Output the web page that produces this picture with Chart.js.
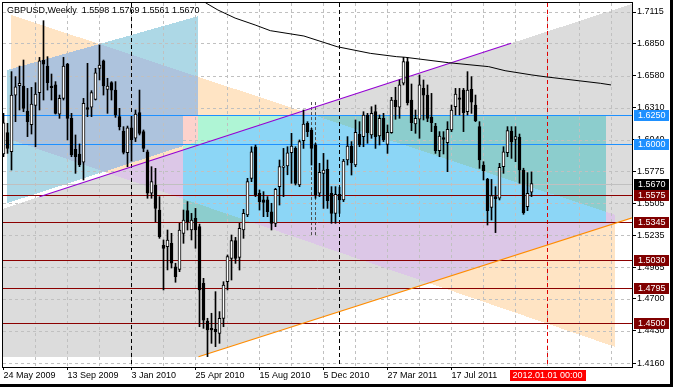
<!DOCTYPE html>
<html>
<head>
<meta charset="utf-8">
<script src="https://cdn.jsdelivr.net/npm/chart.js@4.4.1/dist/chart.umd.min.js"></script>
<style>
  html, body { margin: 0; padding: 0; background: #000; }
  #wrap { width: 670px; height: 384px; background: #fff; }
  canvas { display: block; }
</style>
</head>
<body>
<div id="wrap"><canvas id="chart" width="670" height="384"></canvas></div>
<script>
// GBPUSD weekly bars, index 0 = week of 24 May 2009
var opens = [
  1.5920, 1.6099, 1.5939, 1.6416, 1.6495, 1.6492, 1.6282, 1.6167, 1.6329, 1.6436,
  1.6711, 1.6660, 1.6492, 1.6501, 1.6254, 1.6388, 1.6677, 1.6220, 1.5959, 1.5920,
  1.5850, 1.6310, 1.6313, 1.6380, 1.6641, 1.6703, 1.6464, 1.6520, 1.6458, 1.6234,
  1.6113, 1.5931, 1.6141, 1.6052, 1.6268, 1.6108, 1.5939, 1.5589, 1.5659, 1.5448,
  1.5150, 1.5140, 1.5168, 1.4971, 1.4949, 1.5252, 1.5443, 1.5280, 1.5378, 1.5308,
  1.4831, 1.4514, 1.4452, 1.4444, 1.4410, 1.4536, 1.4845, 1.5041, 1.5190, 1.5050,
  1.5280, 1.5406, 1.5715, 1.5981, 1.5589, 1.5533, 1.5533, 1.5434, 1.5336, 1.5645,
  1.5807, 1.5819, 1.5931, 1.5967, 1.5659, 1.6032, 1.6178, 1.6122, 1.5996, 1.5589,
  1.5757, 1.5791, 1.5589, 1.5420, 1.5580, 1.5533, 1.5869, 1.5987, 1.5827, 1.6085,
  1.6066, 1.6248, 1.6080, 1.6276, 1.6071, 1.6220, 1.6001, 1.6099, 1.6374, 1.6313,
  1.6515, 1.6697, 1.6374, 1.6172, 1.6212, 1.6472, 1.6416, 1.6228, 1.6155, 1.5948,
  1.6057, 1.6015, 1.6122, 1.6318, 1.6392, 1.6458, 1.6276, 1.6464, 1.6332, 1.6150,
  1.5827, 1.5706, 1.5471, 1.5561, 1.5547, 1.5813, 1.5931, 1.6113, 1.6043, 1.6060,
  1.5785, 1.5476, 1.5598
];
var highs = [
  1.6262, 1.6178, 1.6613, 1.6571, 1.6660, 1.6711, 1.6472, 1.6481, 1.6520, 1.6733,
  1.7042, 1.6739, 1.6593, 1.6529, 1.6416, 1.6733, 1.6683, 1.6262, 1.6080, 1.6004,
  1.6388, 1.6683, 1.6453, 1.6641, 1.6837, 1.6711, 1.6557, 1.6529, 1.6529, 1.6304,
  1.6150, 1.6155, 1.6236, 1.6290, 1.6458, 1.6122, 1.5953, 1.5813, 1.5799, 1.5561,
  1.5196, 1.5280, 1.5252, 1.5000, 1.5336, 1.5448, 1.5519, 1.5420, 1.5462, 1.5330,
  1.4873, 1.4537, 1.4579, 1.4761, 1.4593, 1.4845, 1.5070, 1.5238, 1.5218, 1.5336,
  1.5454, 1.5715, 1.5981, 1.5995, 1.5617, 1.5603, 1.5561, 1.5505, 1.5631, 1.5869,
  1.5967, 1.5981, 1.6094, 1.5981, 1.6038, 1.6290, 1.6192, 1.6136, 1.6010, 1.5841,
  1.5925, 1.5869, 1.5645, 1.5645, 1.5640, 1.5875, 1.6066, 1.6024, 1.6206, 1.6192,
  1.6276, 1.6262, 1.6318, 1.6332, 1.6248, 1.6262, 1.6164, 1.6397, 1.6481, 1.6543,
  1.6733, 1.6733, 1.6509, 1.6290, 1.6585, 1.6543, 1.6501, 1.6430, 1.6178, 1.6108,
  1.6108, 1.6192, 1.6332, 1.6472, 1.6472, 1.6472, 1.6613, 1.6571, 1.6416, 1.6192,
  1.5855, 1.5715, 1.5706, 1.5645, 1.5841, 1.5981, 1.6150, 1.6150, 1.6150, 1.6088,
  1.5800, 1.5763, 1.5769
];
var lows = [
  1.5897, 1.5925, 1.5785, 1.6192, 1.6290, 1.6276, 1.6066, 1.6088, 1.5981, 1.6290,
  1.6374, 1.6458, 1.6374, 1.6256, 1.6220, 1.6374, 1.6038, 1.5897, 1.5757, 1.5813,
  1.5701, 1.6234, 1.6234, 1.6374, 1.6543, 1.6416, 1.6262, 1.6374, 1.6228, 1.6122,
  1.5920, 1.5813, 1.5860, 1.6024, 1.6080, 1.5939, 1.5547, 1.5547, 1.5350, 1.5210,
  1.4775, 1.4944, 1.4960, 1.4840, 1.4929, 1.5168, 1.5280, 1.5196, 1.5126, 1.4466,
  1.4452, 1.4214, 1.4326, 1.4298, 1.4326, 1.4466, 1.4775, 1.4859, 1.4999, 1.4943,
  1.5210, 1.5392, 1.5687, 1.5561, 1.5448, 1.5392, 1.5392, 1.5280, 1.5308, 1.5490,
  1.5561, 1.5745, 1.5673, 1.5659, 1.5645, 1.5967, 1.6066, 1.5827, 1.5547, 1.5561,
  1.5462, 1.5462, 1.5336, 1.5336, 1.5420, 1.5519, 1.5827, 1.5743, 1.5813, 1.5981,
  1.5981, 1.6010, 1.6052, 1.5967, 1.5996, 1.6024, 1.5925, 1.6094, 1.6212, 1.6220,
  1.6501, 1.6332, 1.6116, 1.6094, 1.6052, 1.6206, 1.6192, 1.6108, 1.5925, 1.5897,
  1.5920, 1.5771, 1.6108, 1.6248, 1.6248, 1.6108, 1.6248, 1.6262, 1.6192, 1.5799,
  1.5701, 1.5322, 1.5364, 1.5258, 1.5533, 1.5757, 1.5897, 1.5883, 1.5855, 1.5673,
  1.5412, 1.5443, 1.5561
];
var closes = [
  1.6183, 1.5967, 1.6416, 1.6486, 1.6515, 1.6304, 1.6192, 1.6341, 1.6425, 1.6703,
  1.6675, 1.6520, 1.6478, 1.6262, 1.6388, 1.6660, 1.6220, 1.5911, 1.5897, 1.5827,
  1.6346, 1.6296, 1.6436, 1.6604, 1.6669, 1.6492, 1.6492, 1.6458, 1.6248, 1.6150,
  1.5934, 1.6141, 1.6040, 1.6256, 1.6094, 1.5967, 1.5589, 1.5687, 1.5462, 1.5224,
  1.5126, 1.5196, 1.5000, 1.4887, 1.5280, 1.5364, 1.5350, 1.5364, 1.5280, 1.4775,
  1.4522, 1.4438, 1.4438, 1.4424, 1.4536, 1.4817, 1.5056, 1.5190, 1.5041, 1.5294,
  1.5420, 1.5687, 1.5939, 1.5575, 1.5519, 1.5513, 1.5434, 1.5336, 1.5622, 1.5813,
  1.5819, 1.5930, 1.5987, 1.5673, 1.6024, 1.6172, 1.6108, 1.5967, 1.5575, 1.5765,
  1.5785, 1.5527, 1.5420, 1.5580, 1.5533, 1.5861, 1.5987, 1.5847, 1.6102, 1.5996,
  1.6248, 1.6099, 1.6262, 1.6066, 1.6220, 1.6038, 1.6102, 1.6374, 1.6318, 1.6501,
  1.6697, 1.6352, 1.6183, 1.6220, 1.6501, 1.6416, 1.6220, 1.6183, 1.5948, 1.6071,
  1.6043, 1.6127, 1.6290, 1.6425, 1.6380, 1.6268, 1.6458, 1.6355, 1.6200, 1.5869,
  1.5779, 1.5443, 1.5569, 1.5541, 1.5807, 1.5939, 1.6116, 1.6024, 1.6066, 1.5785,
  1.5426, 1.5589, 1.5670
];

// axis ticks
var yTicks = [1.7115, 1.6850, 1.6580, 1.6310, 1.6040, 1.5775, 1.5505, 1.5235, 1.4965, 1.4700, 1.4430, 1.4160];
var xTickWeeks = [0, 16, 32, 48, 64, 80, 96, 112];
var xTickLabels = ['24 May 2009', '13 Sep 2009', '3 Jan 2010', '25 Apr 2010', '15 Aug 2010', '5 Dec 2010', '27 Mar 2011', '17 Jul 2011'];

// shifted moving average (week, price)
var maWeeks = [50.5, 53.6, 57.9, 62.9, 66.7, 75.1, 83.4, 91.7, 98.3, 100.4, 111.3, 121.3, 125.4, 132.1, 135.4, 149.2, 151.9];
var maValues = [1.7193, 1.7132, 1.7064, 1.7006, 1.6958, 1.6913, 1.6823, 1.6767, 1.6739, 1.6734, 1.6688, 1.6655, 1.6621, 1.6585, 1.6570, 1.6515, 1.6501];

// trendlines (week, price)
var upperTrend = [[9.0, 1.5560], [126.9, 1.6852]];
var lowerTrend = [[48.75, 1.4213], [158, 1.5392]];

// horizontal levels
var blueLevels = [1.6250, 1.6000];
var redLevels = [1.5575, 1.5345, 1.5030, 1.4795, 1.4500];

// vertical lines
var yearWeeks = [32, 84];
var cursorWeek = 136;
var cursorLabel = '2012.01.01 00:00';
var markWeeks = [77, 78.1];
var markRange = [1.5221, 1.6357];

// filled objects, corners as (week, price)
var channelShape = [[-1, 1.5450], [158, 1.7193], [158, 1.5392], [48.75, 1.4213], [-1, 1.4213]];
var blueShape = [[1, 1.6627], [48.75, 1.7081], [48.75, 1.6029], [1, 1.5507]];
var bisqueShape = [[2, 1.7090], [153, 1.5406], [153, 1.4295], [2, 1.6038]];
var boxShape = [[45, 1.6250], [150.7, 1.6250], [150.7, 1.5345], [45, 1.5345]];

var FONT = '9px "Liberation Sans", Arial, sans-serif';
var shapes = [
  { pts: channelShape, color: '#dcdcdc' },
  { pts: blueShape, color: '#add8e6' },
  { pts: bisqueShape, color: '#ffe4c4' },
  { pts: boxShape, color: '#afeeee' }
];

function inside(poly, px, py) {
  var c = false;
  for (var i = 0, j = poly.length - 1; i < poly.length; j = i++) {
    var xi = poly[i][0], yi = poly[i][1], xj = poly[j][0], yj = poly[j][1];
    if (((yi > py) != (yj > py)) && (px < (xj - xi) * (py - yi) / (yj - yi) + xi)) c = !c;
  }
  return c;
}

function hline(ctx, x1, x2, y) { ctx.beginPath(); ctx.moveTo(x1, y); ctx.lineTo(x2, y); ctx.stroke(); }
function vline(ctx, x, y1, y2) { ctx.beginPath(); ctx.moveTo(x, y1); ctx.lineTo(x, y2); ctx.stroke(); }

// terminal style objects: fills are xor-ed like MT4 does it
var backdrop = {
  id: 'backdrop',
  beforeDatasetsDraw: function (chart) {
    var ctx = chart.ctx, a = chart.chartArea;
    var xs = chart.scales.x, ys = chart.scales.y;
    var L = Math.round(a.left), T = Math.round(a.top);
    var W = Math.round(a.right) - L, H = Math.round(a.bottom) - T;
    var polys = shapes.map(function (s) {
      return {
        pts: s.pts.map(function (p) { return [xs.getPixelForValue(p[0]), ys.getPixelForValue(p[1])]; }),
        inv: (~parseInt(s.color.slice(1), 16)) & 0xffffff
      };
    });
    var img = ctx.createImageData(W, H);
    var d = img.data, k = 0;
    for (var j = 0; j < H; j++) {
      var py = T + j + 0.5;
      for (var i = 0; i < W; i++) {
        var px = L + i + 0.5, c = 0xffffff;
        for (var n = 0; n < polys.length; n++) {
          if (inside(polys[n].pts, px, py)) c ^= polys[n].inv;
        }
        d[k++] = (c >> 16) & 255; d[k++] = (c >> 8) & 255; d[k++] = c & 255; d[k++] = 255;
      }
    }
    ctx.putImageData(img, L, T);

    ctx.save();
    ctx.beginPath();
    ctx.rect(a.left, a.top, a.right - a.left, a.bottom - a.top);
    ctx.clip();
    ctx.lineWidth = 1;

    // grid
    ctx.strokeStyle = '#c0c0c0';
    ctx.setLineDash([3, 3]);
    yTicks.forEach(function (v) { hline(ctx, a.left, a.right, Math.round(ys.getPixelForValue(v)) + 0.5); });
    for (var w = 8; w < xs.max; w += 8) {
      vline(ctx, Math.floor(xs.getPixelForValue(w)) + 0.5, a.top, a.bottom);
    }

    // year separators and cursor
    ctx.setLineDash([4, 3]);
    ctx.strokeStyle = '#000';
    yearWeeks.forEach(function (w) { vline(ctx, Math.floor(xs.getPixelForValue(w)) + 0.5, a.top, a.bottom); });
    ctx.strokeStyle = '#e00000';
    vline(ctx, Math.floor(xs.getPixelForValue(cursorWeek)) + 0.5, a.top, a.bottom);
    ctx.strokeStyle = '#505050';
    ctx.setLineDash([3, 2]);
    markWeeks.forEach(function (w) {
      vline(ctx, Math.floor(xs.getPixelForValue(w)) + 0.5, ys.getPixelForValue(markRange[1]), ys.getPixelForValue(markRange[0]));
    });

    // levels
    ctx.setLineDash([]);
    ctx.strokeStyle = '#1e90ff';
    blueLevels.forEach(function (v) { hline(ctx, a.left, a.right, Math.round(ys.getPixelForValue(v)) + 0.5); });
    ctx.strokeStyle = '#c0c0c0';
    hline(ctx, a.left, a.right, Math.round(ys.getPixelForValue(closes[closes.length - 1])) + 0.5);
    ctx.strokeStyle = '#8b0000';
    redLevels.forEach(function (v) { hline(ctx, a.left, a.right, Math.round(ys.getPixelForValue(v)) + 0.5); });
    ctx.restore();
  },
  afterDraw: function (chart) {
    var ctx = chart.ctx, a = chart.chartArea;
    var xs = chart.scales.x, ys = chart.scales.y;
    ctx.save();
    ctx.strokeStyle = '#000';
    ctx.lineWidth = 1;
    ctx.strokeRect(a.left - 0.5, a.top - 0.5, a.right - a.left + 1, a.bottom - a.top + 1);

    ctx.font = FONT;
    ctx.textBaseline = 'middle';
    function tag(v, bg) {
      var y = Math.round(ys.getPixelForValue(v));
      ctx.fillStyle = bg;
      ctx.fillRect(a.right + 2, y - 5, 35, 11);
      ctx.fillStyle = '#fff';
      ctx.textAlign = 'left';
      ctx.fillText(v.toFixed(4), a.right + 6, y + 0.5);
    }
    blueLevels.forEach(function (v) { tag(v, '#1e90ff'); });
    tag(closes[closes.length - 1], '#000');
    redLevels.forEach(function (v) { tag(v, '#800000'); });

    // cursor date
    var cx = Math.floor(xs.getPixelForValue(cursorWeek)) + 0.5;
    ctx.fillStyle = '#ff0000';
    ctx.fillRect(Math.round(cx - 38), a.bottom + 3, 76, 11);
    ctx.fillStyle = '#fff';
    ctx.textAlign = 'center';
    ctx.fillText(cursorLabel, cx, a.bottom + 9);

    // title
    var n = closes.length - 1;
    ctx.fillStyle = '#000';
    ctx.textAlign = 'left';
    ctx.fillText('GBPUSD,Weekly  ' + opens[n].toFixed(4) + ' ' + highs[n].toFixed(4) + ' ' + lows[n].toFixed(4) + ' ' + closes[n].toFixed(4), 7, 11);
    ctx.restore();
  }
};

var bodyData = opens.map(function (o, i) { return { x: i, y: [o, closes[i]] }; });
var wickData = highs.map(function (h, i) { return { x: i, y: [lows[i], h] }; });
var bodyColors = opens.map(function (o, i) { return closes[i] >= o ? '#ffffff' : '#000000'; });
var maData = maWeeks.map(function (w, i) { return { x: w, y: maValues[i] }; });

var chart = new Chart(document.getElementById('chart'), {
  type: 'bar',
  data: {
    datasets: [
      { type: 'bar', data: bodyData, backgroundColor: bodyColors, borderColor: '#000', borderWidth: 1,
        borderSkipped: false, barThickness: 3, minBarLength: 1, grouped: false, order: 0 },
      { type: 'bar', data: wickData, backgroundColor: '#000', borderWidth: 0, barThickness: 1, grouped: false, order: 1 },
      { type: 'line', data: maData, borderColor: '#000', borderWidth: 1, pointRadius: 0, tension: 0, order: 2 },
      { type: 'line', data: upperTrend.map(function (p) { return { x: p[0], y: p[1] }; }), borderColor: '#9400d3',
        borderWidth: 1.1, pointRadius: 0, order: 2 },
      { type: 'line', data: lowerTrend.map(function (p) { return { x: p[0], y: p[1] }; }), borderColor: '#ff8c00',
        borderWidth: 1.1, pointRadius: 0, order: 2 }
    ]
  },
  options: {
    responsive: false,
    devicePixelRatio: 1,
    animation: false,
    events: [],
    layout: { padding: { left: 3, top: 3, right: 0, bottom: 0 } },
    plugins: { legend: { display: false }, tooltip: { enabled: false } },
    scales: {
      x: {
        type: 'linear', min: -0.125, max: 157.125, offset: false,
        grid: { offset: false, drawOnChartArea: false, tickLength: 3, tickColor: '#000' },
        border: { display: false },
        afterBuildTicks: function (s) { s.ticks = xTickWeeks.map(function (v) { return { value: v }; }); },
        afterFit: function (s) { s.height = 17; s.paddingLeft = 0; s.paddingRight = 0; },
        ticks: {
          autoSkip: false, maxRotation: 0, align: 'start', padding: 0, color: '#000',
          font: { family: '"Liberation Sans", Arial, sans-serif', size: 9 },
          callback: function (v) { return xTickLabels[xTickWeeks.indexOf(v)]; }
        }
      },
      y: {
        type: 'linear', position: 'right', min: 1.41268, max: 1.71908,
        grid: { drawOnChartArea: false, tickLength: 4, tickColor: '#000' },
        border: { display: false },
        afterBuildTicks: function (s) { s.ticks = yTicks.map(function (v) { return { value: v }; }); },
        afterFit: function (s) { s.width = 38; s.paddingTop = 0; s.paddingBottom = 0; },
        ticks: {
          autoSkip: false, padding: 1, color: '#000',
          font: { family: '"Liberation Sans", Arial, sans-serif', size: 9 },
          callback: function (v) { return v.toFixed(4); }
        }
      }
    }
  },
  plugins: [backdrop]
});
</script>
</body>
</html>
